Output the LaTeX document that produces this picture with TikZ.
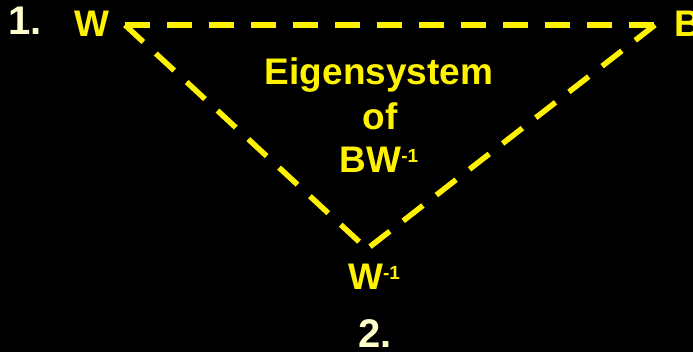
\documentclass[tikz,border=0pt]{standalone}
\usepackage{fontspec}
\setmainfont{Liberation Sans}
\begin{document}
\begin{tikzpicture}[x=1pt,y=-1pt,
  lbl/.style={text=yellow, font=\fontsize{37}{44}\selectfont\bfseries, inner sep=0pt},
  num/.style={text=numcream, font=\fontsize{40}{48}\selectfont\bfseries, inner sep=0pt},
  edge/.style={draw=yellow, line width=5.5pt, dash pattern=on 25pt off 17pt, line cap=butt}]
  \definecolor{numcream}{HTML}{FFFFCC}
  % background
  \fill[black] (0,0) rectangle (693,352);
  \useasboundingbox (0,0) rectangle (693,352);
  \newcommand{\supm}{\raisebox{10pt}{\fontsize{19}{19}\selectfont -1}}

  % triangle corners
  \coordinate (wc) at (125,25);
  \coordinate (bc) at (655,25);
  \coordinate (v) at (367,249);

  % dashed triangle
  \draw[edge] (wc) -- (bc);
  \draw[edge] (wc) -- (v);
  \draw[edge] (bc) -- (v);

  % labels
  \node[num, anchor=base west] (n1) at (8,35) {1.};
  \node[lbl, anchor=base] (w) at (91.5,37) {W};
  \node[lbl, anchor=base west] (b) at (674,37) {B};
  \node[lbl, anchor=base] (eig) at (379,85) {Eigensystem};
  \node[lbl, anchor=base] (of) at (380,130) {of};
  \node[lbl, anchor=base] (bw) at (379,173) {BW\supm};
  \node[lbl, anchor=base] (winv) at (374,290) {W\supm};
  \node[num, anchor=base] (n2) at (375,348) {2.};
\end{tikzpicture}
\end{document}
